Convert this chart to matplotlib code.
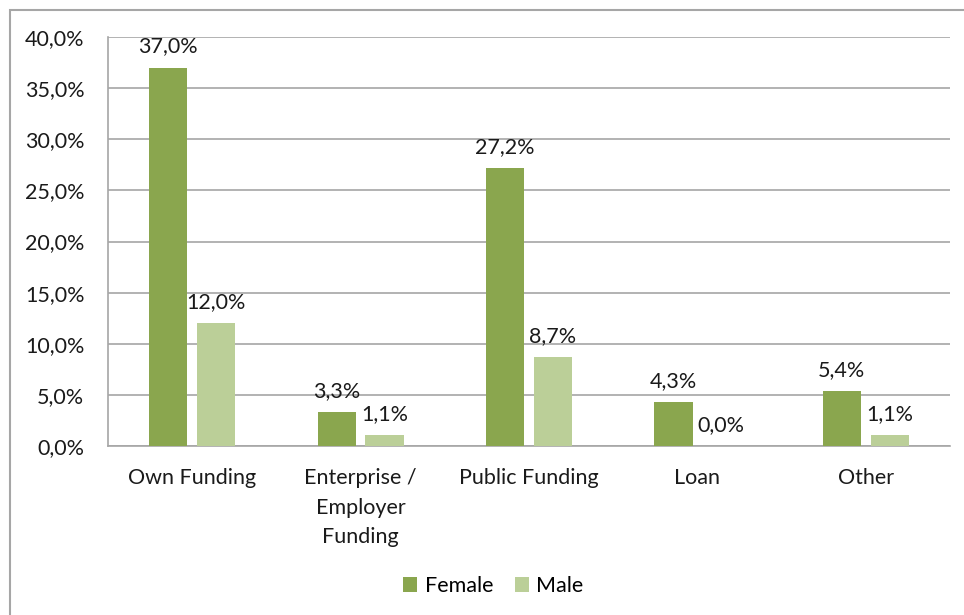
#!/usr/bin/env python3
"""Funding source by gender, grouped bar chart."""

import numpy as np
import matplotlib
matplotlib.use("Agg")
import matplotlib.pyplot as plt
from matplotlib.patches import Rectangle

categories = ["Own Funding", "Enterprise /\nEmployer\nFunding", "Public Funding", "Loan", "Other"]
female = [37.0, 3.3, 27.2, 4.3, 5.4]
male = [12.0, 1.1, 8.7, 0.0, 1.1]
series_names = ["Female", "Male"]

FEMALE_COLOR = "#8AA64E"
MALE_COLOR = "#BBCF98"
GRID_COLOR = "#A6A6A6"
FS = 15.5

plt.rcParams["font.family"] = ["Lato", "DejaVu Sans"]
plt.rcParams["font.size"] = FS


def pct(v):
    return f"{v:.1f}".replace(".", ",") + "%"


fig = plt.figure(figsize=(9.64, 6.15), dpi=100)
ax = fig.add_axes([0.112, 0.2748, 0.8735, 0.665])

x = np.arange(len(categories))
width = 0.226
offset = 0.142

bars_f = ax.bar(x - offset, female, width, color=FEMALE_COLOR, label=series_names[0], zorder=3)
bars_m = ax.bar(x + offset, male, width, color=MALE_COLOR, label=series_names[1], zorder=3)

for bars, vals in ((bars_f, female), (bars_m, male)):
    for b, v in zip(bars, vals):
        ax.annotate(pct(v), (b.get_x() + b.get_width() / 2, v),
                    xytext=(0, 8), textcoords="offset points",
                    ha="center", va="bottom", fontsize=FS, color="#1a1a1a")

ax.set_xlim(-0.5, len(categories) - 0.5)
ax.set_ylim(0, 40)
ax.set_yticks(np.arange(0, 41, 5))
ax.set_yticklabels([pct(v) for v in np.arange(0, 41, 5)])
ax.set_xticks(x)
ax.set_xticklabels(categories, linespacing=1.6)
ax.tick_params(axis="both", length=0, colors="#1a1a1a", labelsize=FS)
ax.tick_params(axis="y", pad=17)
ax.tick_params(axis="x", pad=16)
ax.yaxis.grid(True, color=GRID_COLOR, linewidth=1.2, zorder=0)
ax.set_axisbelow(True)

for side in ("top", "right"):
    ax.spines[side].set_visible(False)
for side in ("left", "bottom"):
    ax.spines[side].set_color(GRID_COLOR)
    ax.spines[side].set_linewidth(1.2)

fig.legend(handles=[bars_f, bars_m], labels=series_names, loc="center",
           bbox_to_anchor=(0.512, 0.047), ncol=2, frameon=False,
           handlelength=0.65, handleheight=0.65, handletextpad=0.35,
           columnspacing=1.0, fontsize=FS)

# outer chart frame (open on the right and bottom edges)
fig.patches.append(Rectangle((10 / 964, -0.1), 1.2, 1 - 10 / 615 + 0.1,
                             transform=fig.transFigure, fill=False,
                             edgecolor="#A6A6A6", linewidth=1.5))

fig.savefig("out.png", dpi=100)
